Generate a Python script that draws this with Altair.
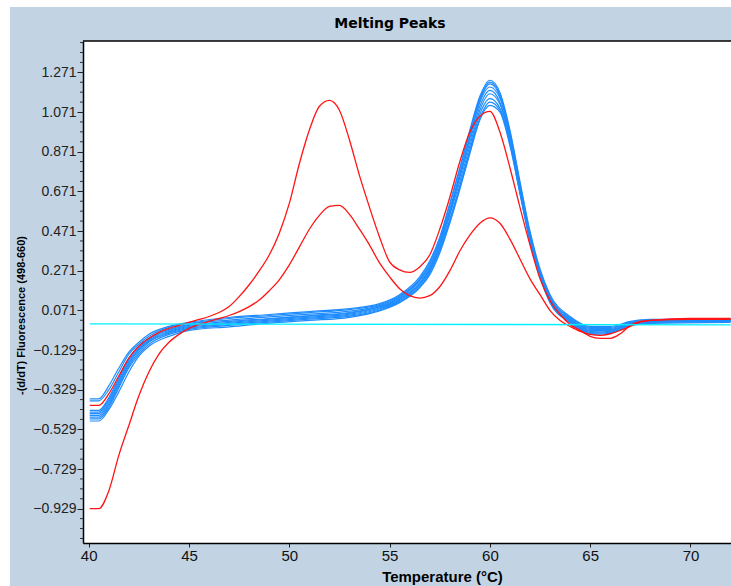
import altair as alt
import pandas as pd

# ---- data -------------------------------------------------------------
BLUE_T = [40.05, 40.5, 41.0, 41.5, 42.0, 42.5, 43.0, 44.0, 45.0, 47.0, 49.0, 51.0,
          53.0, 54.5, 55.5, 56.5, 57.0, 57.5, 58.0, 58.5, 59.0, 59.5, 60.0, 60.5,
          61.0, 61.5, 62.0, 62.5, 63.0, 64.0, 65.0, 66.0, 67.0, 68.0, 72.0]

BLUE_1 = [-0.375, -0.375, -0.31, -0.22, -0.14, -0.09, -0.05, -0.01, 0.01, 0.035, 0.05, 0.065,
          0.08, 0.105, 0.15, 0.24, 0.32, 0.44, 0.61, 0.79, 0.98, 1.15, 1.231, 1.17,
          0.98, 0.72, 0.47, 0.28, 0.15, 0.04, -0.01, -0.01, 0.015, 0.025, 0.03]
BLUE_2 = [-0.385, -0.385, -0.33, -0.24, -0.15, -0.10, -0.06, -0.015, 0.005, 0.03, 0.045, 0.06,
          0.075, 0.10, 0.145, 0.23, 0.31, 0.43, 0.60, 0.78, 0.97, 1.14, 1.222, 1.16,
          0.97, 0.71, 0.46, 0.27, 0.14, 0.035, -0.015, -0.015, 0.01, 0.02, 0.025]
BLUE_3 = [-0.433, -0.433, -0.37, -0.27, -0.17, -0.11, -0.07, -0.025, 0.0, 0.022, 0.038, 0.052,
          0.067, 0.095, 0.14, 0.225, 0.30, 0.42, 0.58, 0.76, 0.95, 1.13, 1.213, 1.15,
          0.96, 0.70, 0.45, 0.27, 0.14, 0.03, -0.02, -0.02, 0.01, 0.02, 0.025]
BLUE_4 = [-0.442, -0.442, -0.38, -0.28, -0.18, -0.12, -0.075, -0.03, -0.005, 0.015, 0.03, 0.045,
          0.06, 0.09, 0.135, 0.22, 0.29, 0.41, 0.57, 0.75, 0.94, 1.12, 1.197, 1.14,
          0.95, 0.69, 0.44, 0.26, 0.13, 0.025, -0.025, -0.025, 0.005, 0.02, 0.02]
BLUE_5 = [-0.450, -0.450, -0.39, -0.29, -0.19, -0.125, -0.08, -0.035, -0.01, 0.01, 0.027, 0.042,
          0.057, 0.088, 0.13, 0.21, 0.28, 0.40, 0.56, 0.74, 0.92, 1.10, 1.180, 1.12,
          0.94, 0.68, 0.44, 0.26, 0.13, 0.02, -0.03, -0.03, 0.005, 0.015, 0.02]
BLUE_6 = [-0.459, -0.459, -0.40, -0.30, -0.20, -0.13, -0.085, -0.04, -0.015, 0.005, 0.022, 0.037,
          0.052, 0.083, 0.125, 0.205, 0.275, 0.39, 0.55, 0.72, 0.90, 1.08, 1.163, 1.11,
          0.93, 0.68, 0.43, 0.25, 0.12, 0.02, -0.035, -0.03, 0.0, 0.015, 0.02]
BLUE_7 = [-0.467, -0.467, -0.41, -0.31, -0.21, -0.14, -0.09, -0.045, -0.02, 0.0, 0.017, 0.032,
          0.047, 0.078, 0.12, 0.20, 0.27, 0.38, 0.53, 0.70, 0.88, 1.06, 1.138, 1.09,
          0.92, 0.67, 0.43, 0.25, 0.12, 0.015, -0.04, -0.035, 0.0, 0.01, 0.015]
BLUE_8 = [-0.476, -0.476, -0.42, -0.32, -0.22, -0.15, -0.10, -0.05, -0.025, -0.005, 0.012, 0.027,
          0.042, 0.073, 0.115, 0.19, 0.26, 0.37, 0.52, 0.69, 0.87, 1.04, 1.121, 1.08,
          0.91, 0.66, 0.42, 0.24, 0.11, 0.01, -0.045, -0.04, -0.005, 0.01, 0.015]
BLUE_9 = [-0.487, -0.487, -0.43, -0.34, -0.24, -0.16, -0.11, -0.06, -0.03, -0.012, 0.006, 0.02,
          0.036, 0.068, 0.11, 0.185, 0.25, 0.36, 0.51, 0.68, 0.86, 1.03, 1.104, 1.07,
          0.90, 0.66, 0.42, 0.24, 0.11, 0.01, -0.05, -0.045, -0.005, 0.005, 0.01]

RED_T = [40.05, 40.5, 41.0, 41.5, 42.0, 42.5, 43.0, 43.5, 44.0, 44.5, 45.0, 45.5,
         46.0, 46.5, 47.0, 47.5, 48.0, 48.5, 49.0, 49.5, 50.0, 50.5, 51.0, 51.5,
         52.0, 52.5, 53.0, 53.5, 54.0, 54.5, 55.0, 55.5, 56.0, 56.5, 57.0, 57.5,
         58.0, 58.5, 59.0, 59.5, 60.0, 60.5, 61.0, 61.5, 62.0, 62.5, 63.0, 63.5,
         64.0, 64.5, 65.0, 65.5, 66.0, 66.5, 67.0, 67.5, 68.0, 70.0, 72.0]

RED_1 = [-0.408, -0.408, -0.35, -0.26, -0.17, -0.11, -0.07, -0.04, -0.02, -0.005, 0.01, 0.025,
         0.04, 0.06, 0.09, 0.14, 0.20, 0.27, 0.35, 0.46, 0.61, 0.81, 0.98, 1.10,
         1.13, 1.08, 0.93, 0.75, 0.59, 0.44, 0.315, 0.275, 0.262, 0.29, 0.35, 0.48,
         0.64, 0.82, 0.97, 1.05, 1.074, 0.97, 0.79, 0.59, 0.40, 0.23, 0.12, 0.05,
         0.0, -0.03, -0.06, -0.07, -0.07, -0.047, -0.005, 0.015, 0.02, 0.025, 0.025]
RED_2 = [-0.929, -0.929, -0.84, -0.66, -0.51, -0.36, -0.24, -0.15, -0.09, -0.05, -0.02, 0.0,
         0.015, 0.03, 0.045, 0.065, 0.09, 0.123, 0.17, 0.225, 0.30, 0.39, 0.48, 0.55,
         0.595, 0.60, 0.555, 0.48, 0.40, 0.31, 0.24, 0.18, 0.145, 0.133, 0.145, 0.19,
         0.27, 0.37, 0.45, 0.51, 0.537, 0.51, 0.43, 0.33, 0.23, 0.15, 0.07, 0.02,
         -0.01, -0.035, -0.05, -0.055, -0.047, -0.03, -0.01, 0.012, 0.02, 0.03, 0.03]

CYAN_T = [40.05, 72.0]
CYAN_V = [0.003, -0.002]

X_TICKS = [40, 45, 50, 55, 60, 65, 70]
Y_TICKS = [1.271, 1.071, 0.871, 0.671, 0.471, 0.271, 0.071,
           -0.129, -0.329, -0.529, -0.729, -0.929]

X_DOMAIN = [39.715, 72.02]
Y_DOMAIN = [-1.102, 1.429]

TITLE = "Melting Peaks"
X_TITLE = "Temperature (°C)"
Y_TITLE = "-(d/dT) Fluorescence (498-660)"

PANEL = "#c2d4e4"
BLUE = "#1e8cff"
RED = "#ff1414"
CYAN = "#00f0ff"

W, H = 648, 502


def long_frame(temps, curves):
    rows = []
    for name, vals in curves.items():
        for t, v in zip(temps, vals):
            rows.append({"T": t, "v": v, "curve": name})
    return pd.DataFrame(rows)


blue_df = long_frame(BLUE_T, {
    "b1": BLUE_1, "b2": BLUE_2, "b3": BLUE_3, "b4": BLUE_4, "b5": BLUE_5,
    "b6": BLUE_6, "b7": BLUE_7, "b8": BLUE_8, "b9": BLUE_9,
})
red_df = long_frame(RED_T, {"r1": RED_1, "r2": RED_2})
cyan_df = long_frame(CYAN_T, {"c": CYAN_V})

# minor y ticks every 0.05 between the labelled ones
minor_vals = sorted({round(t + k * 0.05, 3) for t in Y_TICKS for k in (-3, -2, -1, 1, 2, 3)}
                    - {round(t, 3) for t in Y_TICKS})
minor_vals = [m for m in minor_vals if Y_DOMAIN[0] < m < Y_DOMAIN[1]]
minor_df = pd.DataFrame({"v": minor_vals})

one = pd.DataFrame({"t": [TITLE]})

# ---- scales and axes --------------------------------------------------
x_scale = alt.Scale(domain=X_DOMAIN, nice=False, zero=False)
y_scale = alt.Scale(domain=Y_DOMAIN, nice=False, zero=False)

x_axis = alt.Axis(
    values=X_TICKS, format="d", grid=False, zindex=1,
    domainColor="#000000", domainWidth=1.5,
    tickColor="#222222", tickSize=4, tickWidth=1,
    labelFont="Liberation Sans Narrow, Liberation Sans", labelFontSize=15,
    labelColor="#111111", labelPadding=1, labelFlush=False, labelOverlap=False,
    title=X_TITLE, titleFont="Liberation Sans", titleFontWeight="bold",
    titleFontSize=15, titleColor="#000000",
    titleX=359, titleY=38, titleAlign="center", titleBaseline="alphabetic",
)
y_axis = alt.Axis(
    values=Y_TICKS, format=".3f", grid=False, zindex=1,
    domainColor="#000000", domainWidth=1.5,
    tickColor="#222222", tickSize=6, tickWidth=1,
    labelFont="Liberation Sans", labelFontSize=14, labelColor="#222222",
    labelPadding=1, labelFlush=False, labelOverlap=False,
    title=Y_TITLE, titleFont="Liberation Sans", titleFontWeight="bold",
    titleFontSize=11, titleColor="#000000", titleAngle=270,
    titleX=-62, titleY=274, titleAlign="center", titleBaseline="middle",
)

X = alt.X("T:Q", scale=x_scale, axis=x_axis)
Y = alt.Y("v:Q", scale=y_scale, axis=y_axis)

# ---- layers -----------------------------------------------------------
panel = alt.Chart(one).mark_rect(fill=PANEL).encode(
    x=alt.value(-73), x2=alt.value(W), y=alt.value(-34), y2=alt.value(H + 43)
)
plot_bg = alt.Chart(one).mark_rect(fill="white").encode(
    x=alt.value(0), x2=alt.value(W), y=alt.value(0), y2=alt.value(H)
)
minor = alt.Chart(minor_df).mark_rule(color="#333333", strokeWidth=1).encode(
    x=alt.value(-3), x2=alt.value(0), y=Y
)
blue = alt.Chart(blue_df).mark_line(
    interpolate="monotone", strokeWidth=1.2, color=BLUE
).encode(x=X, y=Y, detail="curve:N")
red = alt.Chart(red_df).mark_line(
    interpolate="monotone", strokeWidth=1.3, color=RED
).encode(x=X, y=Y, detail="curve:N")
cyan = alt.Chart(cyan_df).mark_line(strokeWidth=1.3, color=CYAN).encode(
    x=X, y=Y, detail="curve:N"
)
top_border = alt.Chart(one).mark_rule(color="#000000", strokeWidth=1.5).encode(
    x=alt.value(0), x2=alt.value(W), y=alt.value(0)
)
title = alt.Chart(one).mark_text(
    font="DejaVu Sans", fontWeight="bold", fontSize=14, color="#000000",
    align="center", baseline="alphabetic",
).encode(text="t:N", x=alt.value(307), y=alt.value(-13.5))

chart = alt.layer(
    panel, plot_bg, minor, blue, red, cyan, top_border, title
).properties(
    width=W, height=H,
    autosize=alt.AutoSizeParams(type="none"),
    padding={"left": 83, "top": 41, "right": 0, "bottom": 43},
    background="white",
).configure_view(strokeWidth=0)

chart.save("out.html", embed_options={"renderer": "svg", "actions": False})
